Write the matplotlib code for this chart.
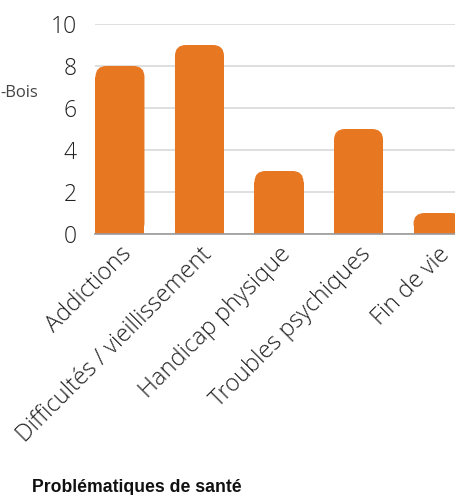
import matplotlib
matplotlib.use("Agg")
from matplotlib import pyplot as plt
from matplotlib import font_manager as fm
from matplotlib.patches import FancyBboxPatch, Rectangle

categories = ["Addictions", "Difficultés / vieillissement", "Handicap physique",
              "Troubles psychiques", "Fin de vie"]
values = [8, 9, 3, 5, 1]
yticks = [0, 2, 4, 6, 8, 10]
ylabel = "-Bois"
title = "Problématiques de santé"

bar_color = "#E87722"
W, H = 456, 495

light_files = [f.fname for f in fm.fontManager.ttflist
               if f.fname.endswith("OpenSans-Light.ttf")]
if light_files:
    light = fm.FontProperties(fname=light_files[0])
else:
    light = fm.FontProperties(family="Open Sans", weight="light")

fig = plt.figure(figsize=(W / 100, H / 100), dpi=100)
# axes from x=95px to the right edge, y from 234px (0) to 24px (10)
ax = fig.add_axes([95 / W, 1 - 234 / H, 361 / W, 210 / H])
ax.set_xlim(-0.314, 4.226)
ax.set_ylim(0, 10)

bar_w = 49 / 79.5
r = 11 / 79.5
aspect = 79.5 / 21
bars = ax.bar(range(len(values)), values, width=bar_w, color=bar_color, alpha=0)
for b in bars:
    x0, w, h = b.get_x(), b.get_width(), b.get_height()
    ax.add_patch(FancyBboxPatch((x0, 0), w, h,
                                boxstyle="round,pad=0,rounding_size=%f" % r,
                                mutation_aspect=aspect, fc=bar_color, ec="none",
                                zorder=3))
    ax.add_patch(Rectangle((x0, 0), w, max(h - r * aspect, 0), fc=bar_color,
                           ec="none", zorder=3))

ax.set_yticks(yticks)
ax.yaxis.grid(True, color="#d9d9d9", lw=1.2)
ax.set_axisbelow(True)
for s in ["top", "right", "left"]:
    ax.spines[s].set_visible(False)
ax.spines["bottom"].set_color("#999999")
ax.spines["bottom"].set_linewidth(1.2)
ax.spines["bottom"].set_zorder(4)
ax.tick_params(axis="both", length=0)
ax.tick_params(axis="y", pad=13)
ax.tick_params(axis="x", pad=6)
ax.set_xticks(range(len(categories)))
ax.set_xticklabels(categories, rotation=45, ha="right", rotation_mode="anchor")
for t in ax.get_yticklabels():
    t.set_fontproperties(light)
    t.set_fontsize(16.5)
    t.set_color("#222222")
for t in ax.get_xticklabels():
    t.set_fontproperties(light)
    t.set_fontsize(17)
    t.set_color("#222222")

fig.text(38 / W, 1 - 93 / H, ylabel, ha="right", va="center",
         fontfamily="Open Sans", fontsize=12, color="#444444")
fig.text(32 / W, 1 - 487 / H, title, ha="left", va="center",
         fontfamily="Liberation Sans", fontweight="bold", fontsize=12.7,
         color="#111111")

fig.savefig("out.png", dpi=100)
